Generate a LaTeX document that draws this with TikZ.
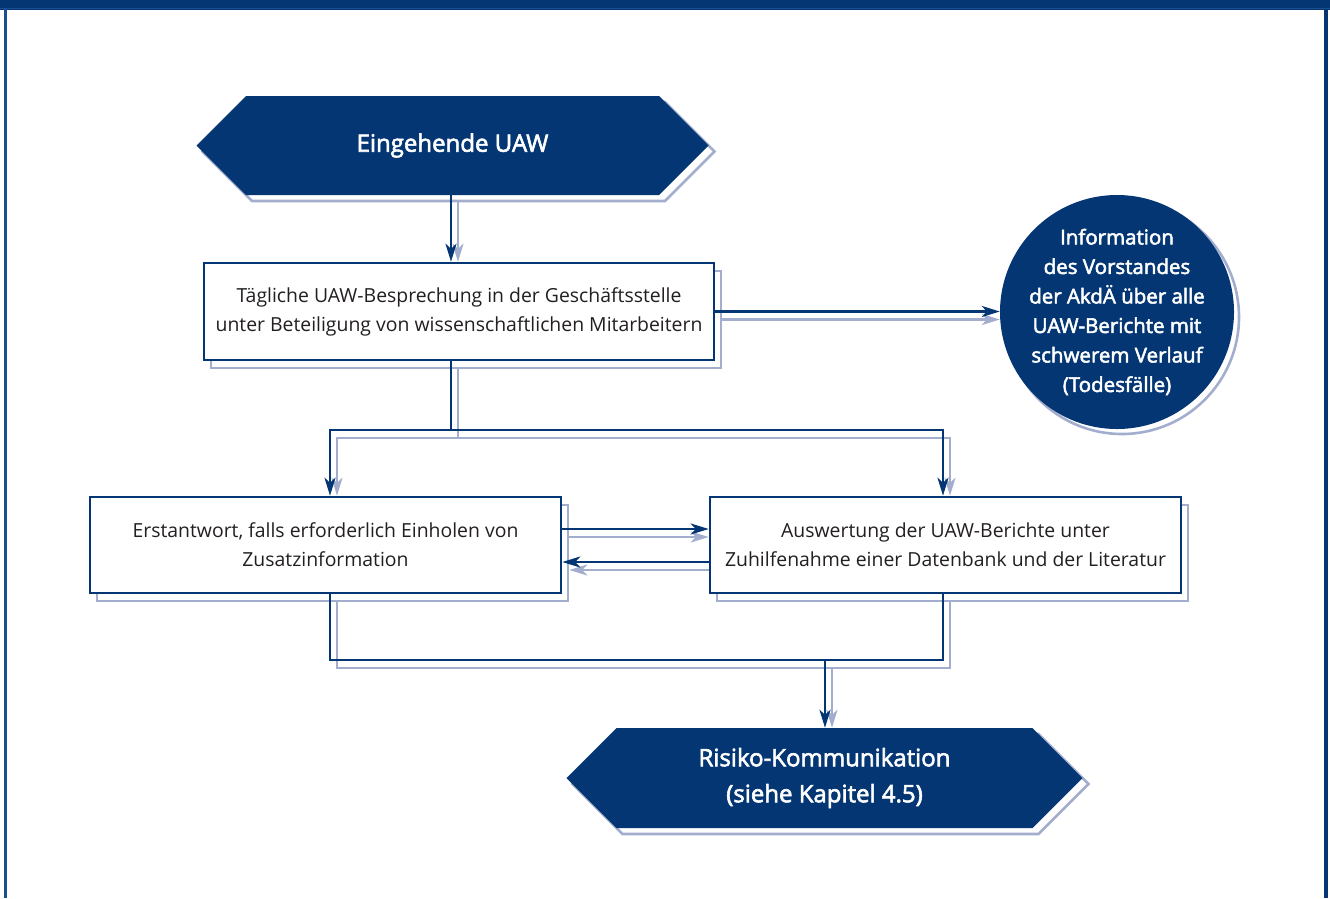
\documentclass[tikz,border=0pt]{standalone}
\usepackage{fontspec}
\setmainfont{Open Sans}
\newfontfamily\medfont{Open Sans}[FakeBold=2.5]
\usetikzlibrary{arrows.meta,calc,shapes.symbols,shadows}
\definecolor{dblue}{RGB}{3,54,115}
\definecolor{mblue}{RGB}{25,78,145}
\definecolor{lblue}{RGB}{163,174,207}
\definecolor{txt}{RGB}{35,31,32}
\tikzset{
  dline/.style={draw=dblue,line width=2.6pt},
  lline/.style={draw=lblue,line width=2.6pt},
  darr/.style={dline,-{Stealth[length=18pt,width=11pt,inset=5pt]}},
  larr/.style={lline,-{Stealth[length=18pt,width=11pt,inset=5pt]}},
  hexbox/.style={signal, signal to=west and east, signal pointer angle=90,
    fill=dblue, draw=none, text=white, align=center, inner sep=0pt,
    font=\medfont\fontsize{24}{36}\selectfont,
    general shadow={draw=lblue,line width=2.6pt,shadow xshift=6pt,shadow yshift=-6pt}},
  stepbox/.style={rectangle, draw=dblue, line width=2.6pt, fill=white, text=txt,
    align=center, inner sep=0pt, font=\fontsize{19.4}{29}\selectfont,
    general shadow={draw=lblue,line width=2.6pt,shadow xshift=7pt,shadow yshift=-8pt}},
  infocirc/.style={circle, fill=dblue, draw=none, inner sep=0pt, minimum size=234pt,
    general shadow={draw=lblue,line width=2.6pt,shadow xshift=5pt,shadow yshift=-5pt}},
  circtxt/.style={text=white, align=center, inner sep=0pt,
    font=\medfont\fontsize{20.5}{29.5}\selectfont}
}
\begin{document}
\begin{tikzpicture}[x=1pt,y=-1pt]
\useasboundingbox (0,0) rectangle (1330,898);
% frame
\fill[dblue] (0,0) rectangle (1330,10);
\draw[mblue,line width=0.8pt] (0,8.2) -- (1330,8.2);
\fill[mblue] (4,9) rectangle (7,898);
\fill[dblue] (1324,9) rectangle (1328,898);

% nodes
\node[hexbox, minimum width=512pt, minimum height=99pt] (hexA) at (452.5,145.5) {Eingehende UAW};
\node[stepbox, minimum width=510pt, minimum height=97pt] (box1) at (459,311.5)
  {Tägliche UAW-Besprechung in der Geschäftsstelle\\unter Beteiligung von wissenschaftlichen Mitarbeitern};
\node[infocirc] (circ) at (1117,312) {};
\node[circtxt] (circtext) at (circ.center)
  {Information\\des Vorstandes\\der AkdÄ über alle\\UAW-Berichte mit\\schwerem Verlauf\\(Todesfälle)};
\node[stepbox, minimum width=471pt, minimum height=96pt] (box2) at (325.5,545)
  {Erstantwort, falls erforderlich Einholen von\\Zusatzinformation};
\node[stepbox, minimum width=471pt, minimum height=96pt] (box3) at (945.5,545)
  {Auswertung der UAW-Berichte unter\\Zuhilfenahme einer Datenbank und der Literatur};
\node[hexbox, minimum width=516pt, minimum height=100pt] (hexB) at (824.5,778)
  {Risiko-Kommunikation\\(siehe Kapitel 4.5)};

% helper coordinates
\coordinate (sp) at (451,0);
\coordinate (spL) at (458,0);
\coordinate (jA) at (451,430);
\coordinate (jAL) at (458,438);
\coordinate (L) at (330,0);
\coordinate (R) at (943,0);
\coordinate (LL) at (337,0);
\coordinate (RR) at (950,0);
\coordinate (ya) at (0,529);
\coordinate (yb) at (0,562);
\coordinate (jB) at (825,660);
\coordinate (jBL) at (832,668);

% light (shadow) connectors
\draw[larr] ($(spL |- hexA.south)+(0,6)$) -- (spL |- box1.north);
\draw[larr] ($(box1.east)+(7,8)$) -- ($(box1.east -| circ.west)+(0,8)$);
\draw[lline] ($(spL |- box1.south)+(0,8)$) -- (jAL);
\draw[larr] (jAL) -| (LL |- box2.north);
\draw[larr] (jAL) -| (RR |- box3.north);
\draw[larr] ($(box2.east |- ya)+(7,8)$) -- ($(box3.west |- ya)+(0,8)$);
\draw[larr] ($(box3.west |- yb)+(0,8)$) -- ($(box2.east |- yb)+(7,8)$);
\draw[lline] ($(LL |- box2.south)+(0,8)$) |- (jBL) -| ($(RR |- box3.south)+(0,8)$);
\draw[larr] (jBL) -- (jBL |- hexB.north);

% dark connectors
\draw[darr] (sp |- hexA.south) -- (sp |- box1.north);
\draw[darr] (box1.east) -- (box1.east -| circ.west);
\draw[dline] (sp |- box1.south) -- (jA);
\draw[darr] (jA) -| (L |- box2.north);
\draw[darr] (jA) -| (R |- box3.north);
\draw[darr] (box2.east |- ya) -- (box3.west |- ya);
\draw[darr] (box3.west |- yb) -- (box2.east |- yb);
\draw[dline] (L |- box2.south) |- (jB) -| (R |- box3.south);
\draw[darr] (jB) -- (jB |- hexB.north);
\end{tikzpicture}
\end{document}
